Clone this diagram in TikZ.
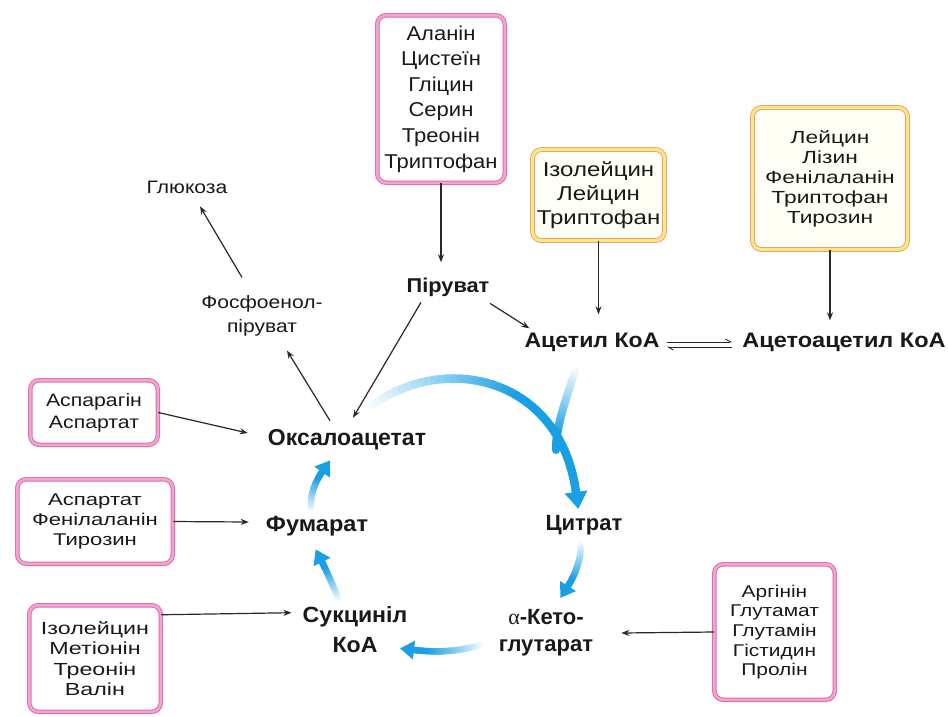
\documentclass[tikz,border=0pt]{standalone}
\usepackage{fontspec}
\setmainfont{Liberation Sans}
\newfontfamily\serifalpha{Liberation Serif}
\usetikzlibrary{arrows.meta,calc}
\definecolor{cycblue}{RGB}{25,160,228}
\definecolor{pinkout}{RGB}{222,110,172}
\definecolor{pinkin}{RGB}{242,165,208}
\definecolor{yelout}{RGB}{226,150,140}
\definecolor{yelin}{RGB}{250,232,120}
\definecolor{yelfill}{RGB}{255,255,246}
\definecolor{arrgray}{RGB}{40,40,40}
\definecolor{txt}{RGB}{25,25,25}
\newcommand\wf[3]{\addfontfeatures{FakeStretch=#1}\fontsize{#2}{#3}\selectfont}
\def\gw{8}\def\gstart{0}\def\gfull{0.6}
\newcommand\gradbez[8]{%
  \foreach \i in {0,...,39}{%
    \pgfmathsetmacro\ta{\i/40}%
    \pgfmathsetmacro\tb{(\i+1)/40}%
    \pgfmathsetmacro\ua{1-\ta}%
    \pgfmathsetmacro\ub{1-\tb}%
    \pgfmathsetmacro\xa{\ua*\ua*\ua*#1+3*\ua*\ua*\ta*#3+3*\ua*\ta*\ta*#5+\ta*\ta*\ta*#7}%
    \pgfmathsetmacro\ya{\ua*\ua*\ua*#2+3*\ua*\ua*\ta*#4+3*\ua*\ta*\ta*#6+\ta*\ta*\ta*#8}%
    \pgfmathsetmacro\xb{\ub*\ub*\ub*#1+3*\ub*\ub*\tb*#3+3*\ub*\tb*\tb*#5+\tb*\tb*\tb*#7}%
    \pgfmathsetmacro\yb{\ub*\ub*\ub*#2+3*\ub*\ub*\tb*#4+3*\ub*\tb*\tb*#6+\tb*\tb*\tb*#8}%
    \pgfmathsetmacro\sh{min(100,\gstart+(100-\gstart)*\ta/\gfull)}%
    \draw[line width=\gw pt, color=cycblue!\sh!white, line cap=round] (\xa,\ya) -- (\xb,\yb);
  }%
}
\newcommand\gradhead[6]{%
  \fill[cycblue] ($(#3,#4)!-#5!(#1,#2)$) -- ($(#3,#4)!#6!90:(#1,#2)$) -- ($(#3,#4)!#6!-90:(#1,#2)$) -- cycle;%
}
\begin{document}
\begin{tikzpicture}[x=1pt,y=-1pt,
  box/.style={rounded corners=9pt, fill=white, align=center, inner sep=0pt, text=txt},
  pinkbox/.style={box, draw=pinkout, line width=1pt, double=pinkin, double distance=2.5pt},
  yelbox/.style={box, draw=yelout, line width=0.8pt, double=yelin, double distance=3.2pt, fill=yelfill},
  lab/.style={inner sep=0pt, text=txt, font=\bfseries\fontsize{22}{27}\selectfont},
  plainlab/.style={inner sep=0pt, text=txt, font=\wf{1.17}{18}{24}},
  thinarr/.style={draw=arrgray, line width=1.2pt, -{Stealth[length=8pt,width=6pt]}},
  harp/.style={draw=arrgray, line width=0.9pt, -{Straight Barb[left,length=5pt,width=6pt]}}
]
\useasboundingbox (0,0) rectangle (948,716);
\fill[white] (0,0) rectangle (948,716);

% blue cycle arrows
\def\gw{8}\def\gstart{0}\def\gfull{0.8}
\gradbez{576}{368}{566}{400}{556}{425}{556}{450}
\def\gw{8.5}\def\gstart{0}\def\gfull{0.6}
\gradbez{366}{410}{440}{350}{560}{375}{576}{492}
\gradhead{560}{375}{576}{492}{17pt}{11.5pt}
\def\gw{6.5}\def\gstart{5}\def\gfull{0.85}
\gradbez{581}{545}{581}{560}{575}{575}{568}{586}
\gradhead{575}{575}{568}{586}{14pt}{9.5pt}
\gradbez{480}{645}{460}{651}{440}{653}{414}{650}
\gradhead{440}{653}{414}{650}{14pt}{9.5pt}
\gradbez{338}{598}{333}{585}{327}{572}{322}{562}
\gradhead{327}{572}{322}{562}{14pt}{9.5pt}
\gradbez{311}{508}{310}{495}{315}{482}{322}{472}
\gradhead{315}{482}{322}{472}{14pt}{9.5pt}

% boxes
\node[pinkbox, minimum width=127.5pt, minimum height=167.5pt, font=\wf{1.1}{20}{25.6}] (bxTop) at (441,99)
  {Аланін\\Цистеїн\\Гліцин\\Серин\\Треонін\\Триптофан};
\node[yelbox, minimum width=132pt, minimum height=91pt, font=\wf{1.2}{20}{24}] (bxIso) at (598.5,195)
  {Ізолейцин\\Лейцин\\Триптофан};
\node[yelbox, minimum width=155pt, minimum height=142pt, font=\wf{1.3}{17.5}{20}] (bxLys) at (830,178.5)
  {Лейцин\\Лізин\\Фенілаланін\\Триптофан\\Тирозин};
\node[pinkbox, minimum width=127.5pt, minimum height=64.5pt, font=\wf{1.18}{18}{21.7}] (bxAsn) at (94,412.5)
  {Аспарагін\\Аспартат};
\node[pinkbox, minimum width=155.5pt, minimum height=84.5pt, font=\wf{1.3}{17}{19.7}] (bxAsp) at (95,521.5)
  {Аспартат\\Фенілаланін\\Тирозин};
\node[pinkbox, minimum width=131.5pt, minimum height=106.5pt, font=\wf{1.33}{17.5}{20.5}] (bxIle) at (95,658.5)
  {Ізолейцин\\Метіонін\\Треонін\\Валін};
\node[pinkbox, minimum width=120.5pt, minimum height=135.5pt, font=\wf{1.23}{17}{19.6}] (bxArg) at (774.5,632)
  {Аргінін\\Глутамат\\Глутамін\\Гістидин\\Пролін};

% labels
\node[lab, font=\bfseries\wf{1.09}{20}{24}, anchor=base] (pyr) at (448,292) {Піруват};
\node[lab, font=\bfseries\wf{1.1}{21}{25}, anchor=base] (acetyl) at (592,347) {Ацетил КоА};
\node[lab, font=\bfseries\wf{1.12}{21}{25}, anchor=base] (acac) at (844,347) {Ацетоацетил КоА};
\node[lab, font=\bfseries\fontsize{23}{27}\selectfont, anchor=base] (oxa) at (347,445) {Оксалоацетат};
\node[lab, font=\bfseries\wf{1.07}{22}{27}, anchor=base] (fum) at (317,531) {Фумарат};
\node[lab, anchor=base] (cit) at (584,530) {Цитрат};
\node[lab, align=center, font=\bfseries\wf{1.05}{22}{30}] (succ) at (355,630) {Сукциніл\\КоА};
\node[lab, align=center, font=\bfseries\fontsize{22}{27}\selectfont] (akg) at (546,633) {{\serifalpha\mdseries α}-Кето-\\глутарат};
\node[plainlab, anchor=base] (glc) at (187,193) {Глюкоза};
\node[plainlab, align=center] (phos) at (262,316) {Фосфоенол-\\піруват};

% connectors
\draw[thinarr] (bxTop.south) -- ($(bxTop.south |- pyr.north)+(0,-15)$);
\draw[thinarr] ($(pyr.south)+(-27,6)$) -- ($(oxa.north)+(6,-11)$);
\draw[thinarr] ($(pyr.south)+(42,7)$) -- ($(acetyl.north west)+(5,-4)$);
\draw[thinarr] ($(oxa.north)+(-17,-8)$) -- ($(phos.south)+(25,14)$);
\draw[thinarr] ($(phos.north)+(-20,-18)$) -- ($(glc.south)+(13,13)$);
\draw[thinarr] (bxIso.south) -- ($(bxIso.south |- acetyl.north)+(0,-18)$);
\draw[thinarr] (bxLys.south) -- ($(bxLys.south |- acac.north)+(0,-12)$);
\draw[harp] ($(acetyl.base east)+(7,-5)$) -- ($(acac.base west)+(-10,-5)$);
\draw[harp] ($(acac.base west)+(-10,0)$) -- ($(acetyl.base east)+(7,0)$);
\draw[thinarr] (bxAsn.east) -- ($(oxa.base west)+(-20,-12)$);
\draw[thinarr] (bxAsp.east) -- ($(fum.base west)+(-17,-9)$);
\draw[thinarr] ($(bxIle.north east)+(0,10)$) -- ($(succ.north west)+(-11,6)$);
\draw[thinarr] (bxArg.west) -- ($(akg.east)+(28,0)$);
\end{tikzpicture}
\end{document}
